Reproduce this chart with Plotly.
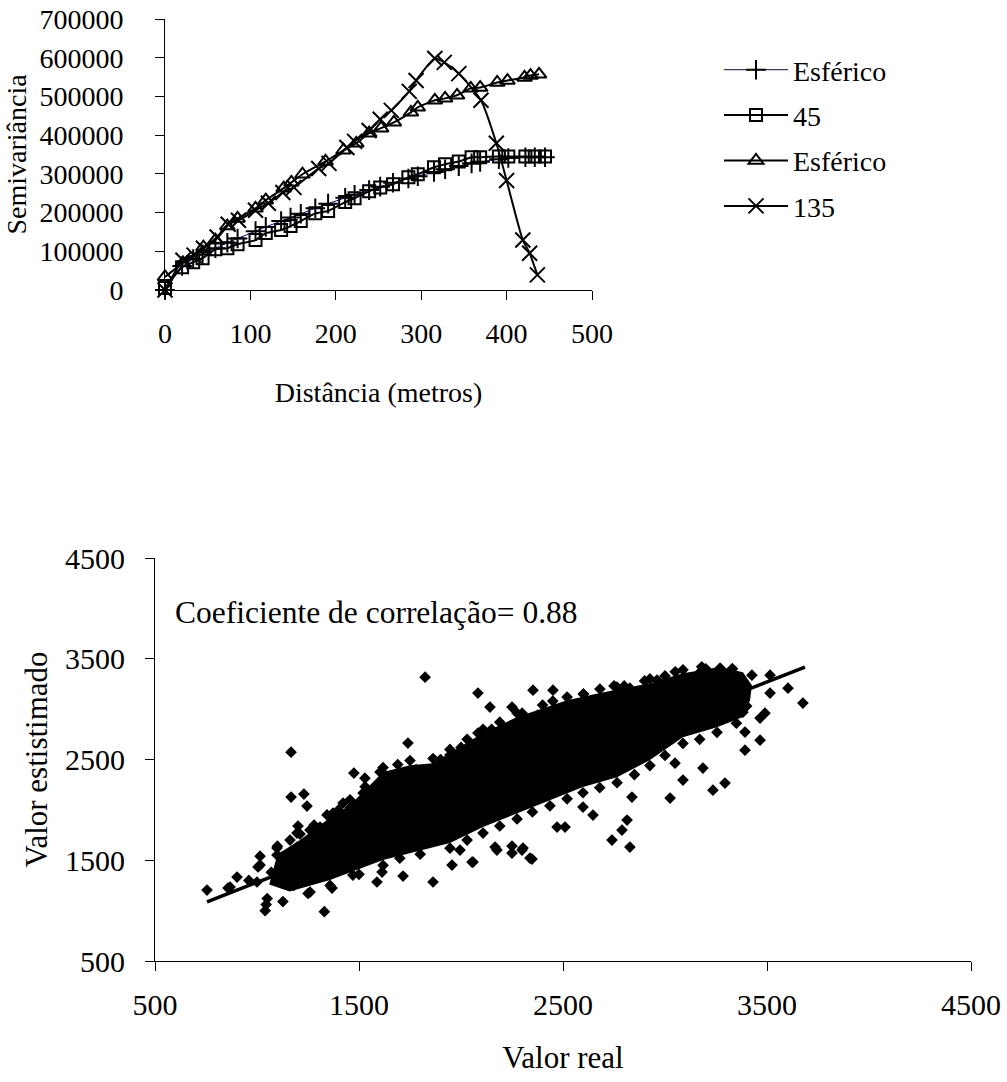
import plotly.graph_objects as go

# ---------------- Top chart: semivariograms ----------------
lag45 = [0, 20, 33, 44, 59, 73, 85, 106, 118, 136, 147, 159, 176, 191, 211, 222, 239, 252, 267, 285,
         296, 315, 328, 344, 359, 369, 391, 402, 422, 433, 445]
gamma45 = [5000, 59000, 72000, 82000, 105000, 108000, 118000, 129000, 147000, 155000, 165000, 178000,
           198000, 204000, 227000, 237000, 255000, 265000, 273000, 291000, 299000, 317000, 325000, 332000,
           343000, 343000, 345000, 345000, 345000, 345000, 345000]
model45 = [0, 62000, 80000, 92000, 108000, 122000, 133000, 152000, 163000, 178000, 187000, 197000,
           211000, 223000, 238000, 246000, 258000, 267000, 277000, 288000, 294000, 305000, 312000, 320000,
           327000, 331000, 338000, 341000, 343000, 343000, 343000]

lag135 = [0, 21, 34, 45, 61, 74, 86, 106, 121, 138, 151, 180, 192, 213, 222, 239, 252, 265, 286, 294,
          316, 327, 344, 370, 388, 400, 419, 427, 436]
gamma135 = [0, 77000, 90000, 108000, 137000, 170000, 180000, 206000, 224000, 252000, 265000, 314000,
            327000, 368000, 384000, 412000, 441000, 464000, 513000, 541000, 598000, 588000, 559000,
            490000, 379000, 283000, 129000, 95000, 39000]
lagm135 = [0, 21, 45, 59, 73, 85, 106, 118, 139, 148, 161, 188, 209, 224, 239, 253, 268, 288, 296, 316,
           328, 342, 358, 369, 389, 401, 421, 428, 438]
model135 = [34000, 70000, 111000, 129000, 165000, 185000, 211000, 232000, 263000, 278000, 299000,
            332000, 361000, 379000, 405000, 418000, 433000, 459000, 472000, 490000, 495000, 503000,
            521000, 523000, 536000, 541000, 549000, 554000, 557000]

top_xticks = [0, 100, 200, 300, 400, 500]
top_yticks = [0, 100000, 200000, 300000, 400000, 500000, 600000, 700000]

# ---------------- Bottom chart: real vs estimated ----------------
real_vals = [1824, 2083, 2353, 2142, 2250, 1167, 1740, 1475, 1529, 1167, 1230, 1245, 1201, 1716, 1863,
             1956, 2059, 2176, 2250, 2348, 2304, 755, 902, 1005, 858, 1000, 1098, 1196, 1275, 1368,
             1456, 1603, 1686, 1613, 1588, 1368, 1260, 1470, 1946, 2083, 2191, 2377,
             2451, 2765, 2828, 2961, 3172, 3270, 3426, 3515, 3603, 3676, 3515, 3490, 3466, 3382, 3392,
             3466, 3392, 3049, 3186, 3088, 3235, 3294, 3025, 2838, 2814, 2789, 2740, 2828, 2647, 2598,
             2338, 2299, 2054, 1995, 2471, 2510, 2167, 2250,
             1040, 1045, 1330, 1120, 1150, 1300, 1420, 1520, 1650, 1780, 1900, 2000, 2150, 2300, 2450,
             2600, 2750, 2900, 3050, 3200, 3330,
             1015, 1100, 1211, 1280, 1343, 1400, 1456, 1530, 1618, 1690, 1750, 1863, 1946, 2030, 2108,
             2190, 2275, 2400, 2520, 2600, 2681, 2800, 2926, 3000, 3088, 3180, 3330,
             3400, 3350, 3255, 3170, 3088, 3000, 2926, 2850, 2765, 2680, 2598, 2520, 2436, 2350, 2275,
             2190, 2108, 2030, 1946, 1800, 1700, 1618, 1500, 1358, 1250, 1127, 1050,
             868, 1015, 1098, 1162, 1196, 1260, 1309, 1373, 1422, 1520, 1618, 1676, 960, 1070, 1180]
est_vals = [3317, 3159, 3188, 3020, 3020, 2573, 2663, 2365, 2315, 2127, 2157, 2038, 1839, 1343, 1284,
            1452, 1482, 1601, 1641, 1512, 1621, 1204, 1333, 1433, 1224, 1284, 1621, 1631, 1730, 1919,
            2018, 2375, 2276, 1383, 1284, 1224, 1184, 1353, 2544, 2762, 2792, 2940,
            3188, 3218, 3208, 3288, 3367, 3407, 3337, 3337, 3208, 3060, 3159, 2960, 2911, 2970, 2772,
            2692, 2593, 2464, 2415, 2296, 2196, 2266, 2117, 2127, 1899, 1800, 1700, 1631, 1948, 2028,
            1522, 1601, 1482, 1601, 1829, 1829, 1631, 1571,
            1000, 1060, 990, 1530, 1420, 1650, 1870, 2000, 2230, 2400, 2500, 2620, 2800, 2960, 3080,
            3150, 3230, 3280, 3370, 3400, 3400,
            1540, 1640, 1760, 1850, 1950, 2000, 2100, 2230, 2420, 2450, 2490, 2510, 2600, 2700, 2800,
            2870, 2960, 3040, 3120, 3150, 3200, 3230, 3300, 3330, 3390, 3420, 3400,
            3030, 2860, 2770, 2700, 2660, 2540, 2440, 2350, 2270, 2220, 2170, 2110, 2040, 1980, 1910,
            1840, 1770, 1700, 1620, 1560, 1520, 1450, 1360, 1250, 1170, 1090, 1120,
            1234, 1452, 1552, 1700, 1770, 1800, 1829, 1968, 2068, 2167, 2365, 2226, 1300, 1380, 1250]

core_real = [1100, 1211, 1343, 1456, 1618, 1750, 1863, 1946, 2108, 2275, 2520, 2681, 2926, 3088, 3270,
             3382, 3426, 3417, 3382, 3255, 3088, 2926, 2765, 2598, 2436, 2275, 2108, 1946, 1618, 1358,
             1160, 1060]
core_est = [1560, 1700, 1899, 2048, 2375, 2444, 2464, 2563, 2762, 2921, 3089, 3159, 3258, 3357, 3417,
            3367, 3238, 3089, 2921, 2821, 2722, 2494, 2325, 2226, 2097, 1968, 1829, 1671, 1502, 1304,
            1190, 1260]

trend_real = [755, 3686]
trend_est = [1086, 3417]
bottom_ticks = [500, 1500, 2500, 3500, 4500]

FONT = "Liberation Serif, Times New Roman, DejaVu Serif, serif"
W, H = 1007, 1082

fig = go.Figure()

fig.add_trace(go.Scatter(x=lag45, y=model45, name="Esférico", mode="lines+markers",
                         line=dict(color="#000080", width=1, shape="spline", smoothing=0.5),
                         marker=dict(symbol="cross-thin-open", size=14, color="black",
                                     line=dict(color="black", width=2)),
                         legendrank=1, legendgroup="a", cliponaxis=False, xaxis="x", yaxis="y"))
fig.add_trace(go.Scatter(x=lag45, y=gamma45, name="45", mode="lines+markers",
                         line=dict(color="black", width=2, shape="spline", smoothing=0.5),
                         marker=dict(symbol="square-open", size=12, color="black",
                                     line=dict(color="black", width=2)),
                         legendrank=2, legendgroup="b", cliponaxis=False, xaxis="x", yaxis="y"))
fig.add_trace(go.Scatter(x=lagm135, y=model135, name="Esférico", mode="lines+markers",
                         line=dict(color="black", width=2, shape="spline", smoothing=0.5),
                         marker=dict(symbol="triangle-up-open", size=13, color="black",
                                     line=dict(color="black", width=2)),
                         legendrank=3, legendgroup="c", cliponaxis=False, xaxis="x", yaxis="y"))
fig.add_trace(go.Scatter(x=lag135, y=gamma135, name="135", mode="lines+markers",
                         line=dict(color="black", width=2, shape="spline", smoothing=0.6),
                         marker=dict(symbol="x-thin-open", size=15, color="black",
                                     line=dict(color="black", width=2)),
                         legendrank=4, legendgroup="d", cliponaxis=False, xaxis="x", yaxis="y"))

fig.add_trace(go.Scatter(x=core_real, y=core_est, mode="lines", fill="toself", fillcolor="black",
                         line=dict(width=0, color="black"), showlegend=False, hoverinfo="skip",
                         xaxis="x2", yaxis="y2"))
fig.add_trace(go.Scatter(x=real_vals, y=est_vals, mode="markers", showlegend=False,
                         marker=dict(symbol="diamond", size=9, color="black"),
                         xaxis="x2", yaxis="y2"))
fig.add_trace(go.Scatter(x=trend_real, y=trend_est, mode="lines", showlegend=False,
                         line=dict(color="black", width=3.5), xaxis="x2", yaxis="y2"))

axis_common = dict(showline=True, linecolor="black", linewidth=1, ticks="outside", ticklen=9,
                   tickcolor="black", tickwidth=1, showgrid=False, zeroline=False, mirror=False,
                   automargin=False)

fig.update_layout(
    width=W, height=H, margin=dict(l=0, r=0, t=0, b=0),
    paper_bgcolor="white", plot_bgcolor="white",
    font=dict(family=FONT, color="black", size=28),
    showlegend=True,
    legend=dict(x=719 / W, y=1 - 45 / H, xanchor="left", yanchor="top",
                font=dict(family=FONT, size=28, color="black"),
                tracegroupgap=6, bgcolor="rgba(0,0,0,0)", itemwidth=64),
    xaxis=dict(domain=[165 / W, 592 / W], range=[0, 500], tickvals=top_xticks,
               ticktext=[str(v) for v in top_xticks], ticklabelstandoff=9,
               tickfont=dict(family=FONT, size=28),
               title=dict(text="Distância (metros)", standoff=34, font=dict(family=FONT, size=28)),
               anchor="y", **axis_common),
    yaxis=dict(domain=[1 - 290 / H, 1 - 19 / H], range=[0, 700000], tickvals=top_yticks,
               ticktext=[str(v) for v in top_yticks], ticklabelstandoff=26,
               tickfont=dict(family=FONT, size=28),
               title=dict(text="Semivariância", standoff=4, font=dict(family=FONT, size=28)),
               anchor="x", **axis_common),
    xaxis2=dict(domain=[155 / W, 971 / W], range=[500, 4500], tickvals=bottom_ticks,
                ticktext=[str(v) for v in bottom_ticks], ticklabelstandoff=8,
                title=dict(text="Valor real", standoff=26, font=dict(family=FONT, size=31)),
                tickfont=dict(family=FONT, size=30), anchor="y2", **axis_common),
    yaxis2=dict(domain=[1 - 961 / H, 1 - 558 / H], range=[500, 4500], tickvals=bottom_ticks,
                ticktext=[str(v) for v in bottom_ticks], ticklabelstandoff=14,
                title=dict(text="Valor estistimado", standoff=8, font=dict(family=FONT, size=31)),
                tickfont=dict(family=FONT, size=30), anchor="x2", **axis_common),
    annotations=[dict(text="Coeficiente de correlação= 0.88", x=173 / W, y=1 - 612 / H,
                      xref="paper", yref="paper", xanchor="left", yanchor="middle",
                      showarrow=False, font=dict(family=FONT, size=31.5, color="black"))],
)

fig.write_html("out.html")
